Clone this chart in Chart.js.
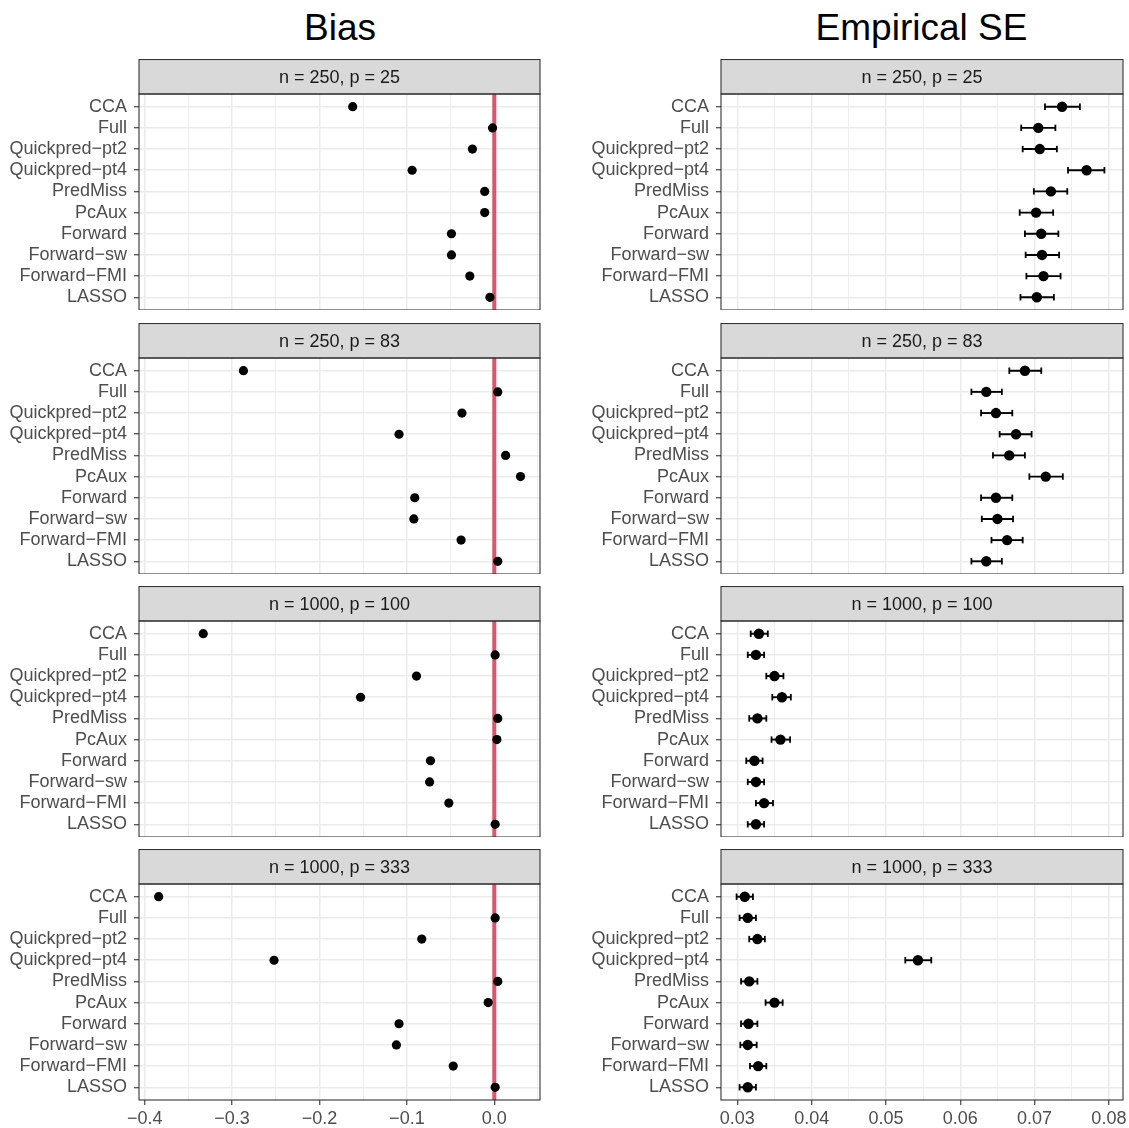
<!DOCTYPE html>
<html>
<head>
<meta charset="utf-8">
<script src="https://cdn.jsdelivr.net/npm/chart.js@4.4.1/dist/chart.umd.min.js"></script>
<style>
  html, body { margin: 0; padding: 0; background: #fff; }
  #page { position: relative; width: 1129px; height: 1128px; overflow: hidden; background: #fff;
          font-family: 'Liberation Sans', Arial, sans-serif; }
  .col-title { position: absolute; top: 9px; height: 37px; line-height: 37px; font-size: 37px;
               text-align: center; color: #000; white-space: nowrap; }
  canvas { position: absolute; }
</style>
</head>
<body>
<div id="page">
  <div class="col-title" style="left:140px;width:400px">Bias</div>
  <div class="col-title" style="left:721px;width:401px">Empirical SE</div>
</div>
<script>
// Imputation methods, top to bottom
const methods = ['CCA', 'Full', 'Quickpred\u2212pt2', 'Quickpred\u2212pt4', 'PredMiss', 'PcAux',
                 'Forward', 'Forward\u2212sw', 'Forward\u2212FMI', 'LASSO'];

// Simulation settings (one facet row each)
const settings = ['n = 250, p = 25', 'n = 250, p = 83', 'n = 1000, p = 100', 'n = 1000, p = 333'];

// Bias of the estimate per method
const bias_250_25   = [-0.162, -0.002, -0.025, -0.094, -0.011, -0.011, -0.049, -0.049, -0.028, -0.005];
const bias_250_83   = [-0.287,  0.004, -0.037, -0.109,  0.013,  0.030, -0.091, -0.092, -0.038,  0.004];
const bias_1000_100 = [-0.333,  0.001, -0.089, -0.153,  0.004,  0.003, -0.073, -0.074, -0.052,  0.001];
const bias_1000_333 = [-0.384,  0.001, -0.083, -0.252,  0.004, -0.007, -0.109, -0.112, -0.047,  0.001];

// Empirical standard error with Monte Carlo interval (lower / upper)
const empSE_250_25   = [0.0737, 0.0705, 0.0707, 0.0770, 0.0722, 0.0702, 0.0709, 0.0710, 0.0712, 0.0703];
const empSELo_250_25 = [0.0714, 0.0682, 0.0684, 0.0745, 0.0699, 0.0680, 0.0687, 0.0688, 0.0689, 0.0681];
const empSEHi_250_25 = [0.0761, 0.0728, 0.0730, 0.0794, 0.0744, 0.0725, 0.0732, 0.0733, 0.0735, 0.0726];

const empSE_250_83   = [0.0687, 0.0635, 0.0648, 0.0675, 0.0666, 0.0715, 0.0648, 0.0650, 0.0663, 0.0635];
const empSELo_250_83 = [0.0666, 0.0615, 0.0628, 0.0653, 0.0644, 0.0693, 0.0628, 0.0629, 0.0642, 0.0615];
const empSEHi_250_83 = [0.0709, 0.0656, 0.0670, 0.0696, 0.0687, 0.0738, 0.0670, 0.0671, 0.0684, 0.0656];

const empSE_1000_100   = [0.0329, 0.0325, 0.0350, 0.0360, 0.0327, 0.0358, 0.0323, 0.0325, 0.0336, 0.0325];
const empSELo_1000_100 = [0.0318, 0.0314, 0.0339, 0.0347, 0.0316, 0.0346, 0.0312, 0.0314, 0.0325, 0.0314];
const empSEHi_1000_100 = [0.0341, 0.0336, 0.0362, 0.0372, 0.0339, 0.0371, 0.0334, 0.0336, 0.0348, 0.0336];

const empSE_1000_333   = [0.0310, 0.0314, 0.0327, 0.0543, 0.0316, 0.0350, 0.0315, 0.0314, 0.0328, 0.0314];
const empSELo_1000_333 = [0.0299, 0.0303, 0.0316, 0.0526, 0.0305, 0.0338, 0.0305, 0.0304, 0.0317, 0.0303];
const empSEHi_1000_333 = [0.0321, 0.0325, 0.0337, 0.0561, 0.0327, 0.0361, 0.0327, 0.0326, 0.0339, 0.0325];

// Axis breaks and labels
const biasLimits = [-0.4065, 0.0523];
const biasBreaks = [-0.4, -0.3, -0.2, -0.1, 0.0];
const biasLabels = ['\u22120.4', '\u22120.3', '\u22120.2', '\u22120.1', '0.0'];
const biasMinor  = [-0.35, -0.25, -0.15, -0.05, 0.05];
const biasReference = 0;

const seLimits = [0.0278, 0.0819];
const seBreaks = [0.03, 0.04, 0.05, 0.06, 0.07, 0.08];
const seLabels = ['0.03', '0.04', '0.05', '0.06', '0.07', '0.08'];
const seMinor  = [0.035, 0.045, 0.055, 0.065, 0.075];

const catLimits = [-0.6, methods.length - 0.4];

const biasRows = [bias_250_25, bias_250_83, bias_1000_100, bias_1000_333];
const seRows = [
  [empSE_250_25, empSELo_250_25, empSEHi_250_25],
  [empSE_250_83, empSELo_250_83, empSEHi_250_83],
  [empSE_1000_100, empSELo_1000_100, empSEHi_1000_100],
  [empSE_1000_333, empSELo_1000_333, empSEHi_1000_333]
];

Chart.defaults.font.family = "'Liberation Sans', Arial, sans-serif";

// Grey facet strip above each panel plus the panel frame
const facetFrame = {
  id: 'facetFrame',
  afterDraw(chart, args, opts) {
    const { ctx, chartArea: a } = chart;
    const w = a.right - a.left;
    ctx.save();
    ctx.fillStyle = '#D9D9D9';
    ctx.fillRect(a.left, opts.stripTop, w, a.top - opts.stripTop);
    ctx.strokeStyle = '#333333';
    ctx.lineWidth = 1.1;
    ctx.strokeRect(a.left, opts.stripTop, w, a.top - opts.stripTop);
    ctx.fillStyle = '#1A1A1A';
    ctx.font = "18px 'Liberation Sans', Arial, sans-serif";
    ctx.textAlign = 'center';
    ctx.textBaseline = 'middle';
    ctx.fillText(opts.label, a.left + w / 2, (opts.stripTop + a.top) / 2 + 1);
    ctx.strokeRect(a.left, a.top, w, a.bottom - a.top);
    ctx.restore();
  }
};

const near = (a, b) => Math.abs(a - b) < 1e-9;

// Axis label overflow is handled by the canvas size, so no extra layout padding
function noLabelPadding(s) {
  s.paddingTop = 0; s.paddingBottom = 0; s.paddingLeft = 0; s.paddingRight = 0;
}

function facetChart(cfg) {
  const page = document.getElementById('page');
  const canvas = document.createElement('canvas');
  canvas.width = cfg.width;
  canvas.height = cfg.height;
  canvas.style.left = cfg.left + 'px';
  canvas.style.top = cfg.top + 'px';
  canvas.style.width = cfg.width + 'px';
  canvas.style.height = cfg.height + 'px';
  page.appendChild(canvas);

  const allTicks = cfg.breaks.concat(cfg.minor).sort((a, b) => a - b);
  const isMajor = v => cfg.breaks.some(b => near(b, v));
  const labelFor = v => {
    const k = cfg.breaks.findIndex(b => near(b, v));
    return k >= 0 ? cfg.labels[k] : '';
  };

  return new Chart(canvas, {
    type: 'scatter',
    data: { datasets: cfg.datasets },
    plugins: [facetFrame],
    options: {
      responsive: false,
      animation: false,
      events: [],
      devicePixelRatio: 1,
      layout: { autoPadding: false, padding: { top: cfg.stripH, right: cfg.padRight, left: 0, bottom: 0 } },
      plugins: {
        legend: { display: false },
        tooltip: { enabled: false },
        facetFrame: { label: cfg.label, stripTop: 0.5 }
      },
      scales: {
        x: {
          type: 'linear', position: 'bottom',
          min: cfg.limits[0], max: cfg.limits[1],
          border: { display: false },
          afterBuildTicks: s => { s.ticks = allTicks.map(v => ({ value: v })); },
          afterFit: s => { s.height = cfg.axisH; noLabelPadding(s); },
          grid: {
            color: '#EBEBEB',
            lineWidth: c => (c.tick && isMajor(c.tick.value)) ? 1.5 : 0.8,
            drawTicks: cfg.showX,
            tickLength: 5,
            tickWidth: 1.1,
            tickColor: c => (c.tick && isMajor(c.tick.value)) ? '#333333' : 'rgba(0,0,0,0)'
          },
          ticks: {
            display: cfg.showX, autoSkip: false, maxRotation: 0, minRotation: 0,
            padding: 3, color: '#4D4D4D', font: { size: 18 },
            callback: v => labelFor(v)
          }
        },
        y: {
          type: 'linear', position: 'left', reverse: true,
          min: catLimits[0], max: catLimits[1],
          border: { display: false },
          afterBuildTicks: s => { s.ticks = methods.map((m, i) => ({ value: i })); },
          afterFit: s => { s.width = cfg.axisW; noLabelPadding(s); },
          grid: { color: '#EBEBEB', lineWidth: 1.5, drawTicks: true, tickLength: 5, tickWidth: 1.1, tickColor: '#333333' },
          ticks: { autoSkip: false, padding: 7, color: '#4D4D4D', font: { size: 18 },
                   callback: v => methods[v] }
        }
      }
    }
  });
}

const rowTops = [59, 323, 586, 849];
const stripH = 35, plotH = 216, bottomAxisH = 30;

settings.forEach((label, r) => {
  const last = r === settings.length - 1;
  const height = stripH + plotH + (last ? bottomAxisH : 0);

  // Bias column
  const b = biasRows[r];
  facetChart({
    left: 0, top: rowTops[r], width: 560, height,
    axisW: 139, padRight: 20, stripH, axisH: last ? bottomAxisH : 0, showX: last,
    label, limits: biasLimits, breaks: biasBreaks, labels: biasLabels, minor: biasMinor,
    datasets: [
      { data: b.map((v, i) => ({ x: v, y: i })), pointRadius: 4.6, pointBackgroundColor: '#000',
        pointBorderWidth: 0, order: 0 },
      { showLine: true, data: [{ x: biasReference, y: catLimits[0] }, { x: biasReference, y: catLimits[1] }],
        borderColor: '#DF536B', borderWidth: 4, pointRadius: 0, order: 2, clip: 0 }
    ]
  });

  // Empirical SE column
  const [est, lo, hi] = seRows[r];
  const bars = methods.map((m, i) => ({
    showLine: true, data: [{ x: lo[i], y: i }, { x: hi[i], y: i }],
    borderColor: '#000', borderWidth: 1.9,
    pointStyle: 'line', pointRotation: 90, pointRadius: 3.2,
    pointBorderColor: '#000', pointBorderWidth: 1.8, order: 1
  }));
  facetChart({
    left: 560, top: rowTops[r], width: 569, height,
    axisW: 161, padRight: 6, stripH, axisH: last ? bottomAxisH : 0, showX: last,
    label, limits: seLimits, breaks: seBreaks, labels: seLabels, minor: seMinor,
    datasets: [
      { data: est.map((v, i) => ({ x: v, y: i })), pointRadius: 5.2, pointBackgroundColor: '#000',
        pointBorderWidth: 0, order: 0 }
    ].concat(bars)
  });
});
</script>
</body>
</html>
